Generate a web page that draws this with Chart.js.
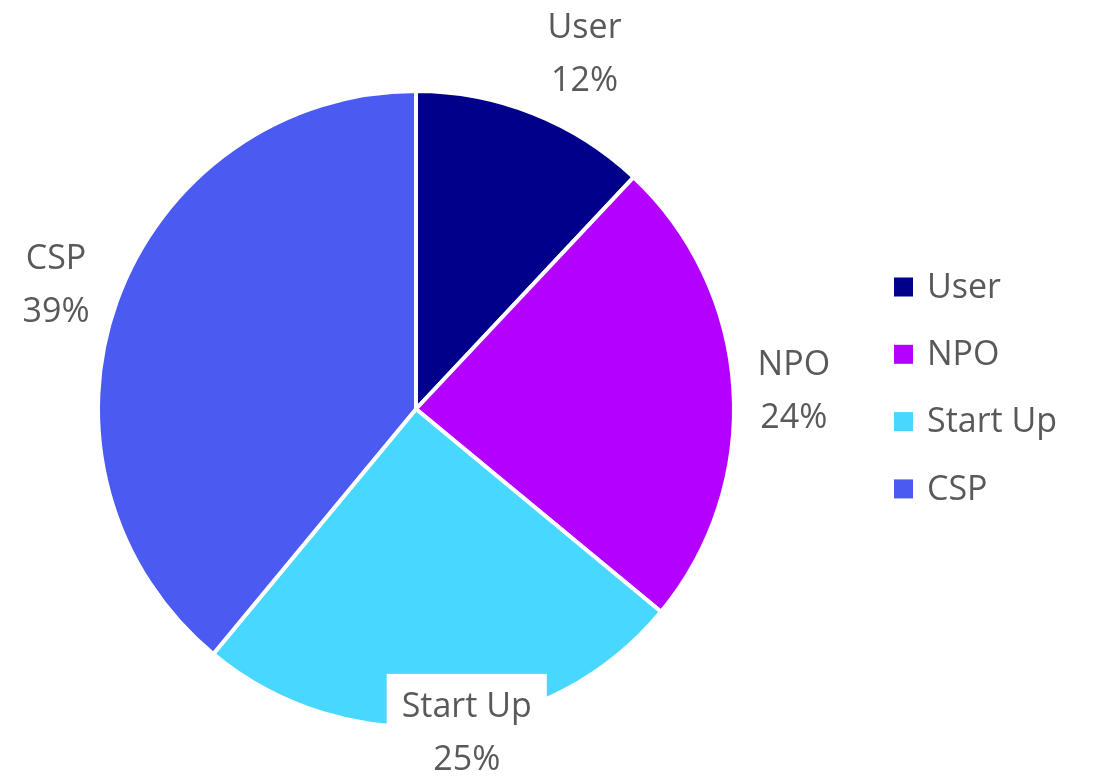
<!DOCTYPE html>
<html>
<head>
<meta charset="utf-8">
<script src="https://cdn.jsdelivr.net/npm/chart.js@4"></script>
<style>
    html, body { margin: 0; padding: 0; background: #ffffff; }
    #wrap { width: 1102px; height: 776px; }
</style>
</head>
<body>
<div id="wrap"><canvas id="shareChart"></canvas></div>
<script>
// values
const categories = ['User', 'NPO', 'Start Up', 'CSP'];
const shares = [12, 24, 25, 39];
const sliceColors = ['#00008B', '#B400FF', '#48D8FF', '#4B5AF0'];

const textColor = '#595959';
const textFont = '34px "Open Sans"';

// label placement around each slice (radius factor, angle nudge in degrees)
const labelSpots = [
    { r: 1.245, da: 3.6 },
    { r: 1.19, da: 0.4 },
    { r: 1.02, da: -3.6, boxed: true },
    { r: 1.20, da: -0.4 }
];

const sliceLabels = {
    id: 'sliceLabels',
    afterDatasetsDraw(chart) {
        const ctx = chart.ctx;
        const meta = chart.getDatasetMeta(0);
        const values = chart.data.datasets[0].data;
        const total = values.reduce((a, b) => a + b, 0);
        ctx.save();
        ctx.font = textFont;
        ctx.fillStyle = textColor;
        ctx.textAlign = 'center';
        ctx.textBaseline = 'middle';
        meta.data.forEach((arc, i) => {
            const p = arc.getProps(['x', 'y', 'startAngle', 'endAngle', 'outerRadius'], true);
            const spot = labelSpots[i];
            const a = (p.startAngle + p.endAngle) / 2 + spot.da * Math.PI / 180;
            const R = p.outerRadius * spot.r;
            const cx = p.x + Math.cos(a) * R;
            const cy = p.y + Math.sin(a) * R + 4;
            const line1 = chart.data.labels[i];
            const line2 = Math.round(values[i] / total * 100) + '%';
            const lh = 53;
            if (spot.boxed) {
                const w = Math.max(ctx.measureText(line1).width, ctx.measureText(line2).width) + 30;
                ctx.fillStyle = '#ffffff';
                ctx.fillRect(cx - w / 2, cy - lh / 2 - 33, w, lh + 70);
                ctx.fillStyle = textColor;
            }
            ctx.fillText(line1, cx, cy - lh / 2);
            ctx.fillText(line2, cx, cy + lh / 2);
        });
        ctx.restore();
    }
};

const sideLegend = {
    id: 'sideLegend',
    afterDraw(chart) {
        const ctx = chart.ctx;
        const items = chart.options.plugins.legend.labels.generateLabels(chart);
        const x = 894, top = 287, step = 67.3, box = 19;
        ctx.save();
        ctx.font = textFont;
        ctx.textBaseline = 'middle';
        ctx.textAlign = 'left';
        items.forEach((item, i) => {
            const y = top + i * step;
            ctx.fillStyle = item.fillStyle;
            ctx.fillRect(x, y - box / 2, box, box);
            ctx.fillStyle = textColor;
            ctx.fillText(item.text, x + 33, y + 1);
        });
        ctx.restore();
    }
};

new Chart(document.getElementById('shareChart'), {
    type: 'pie',
    data: {
        labels: categories,
        datasets: [{
            data: shares,
            backgroundColor: sliceColors,
            borderColor: '#ffffff',
            borderWidth: 4
        }]
    },
    options: {
        responsive: true,
        maintainAspectRatio: false,
        animation: false,
        layout: {
            padding: { left: 96, top: 89, right: 366, bottom: 47 }
        },
        plugins: {
            legend: { display: false },
            tooltip: { enabled: false }
        }
    },
    plugins: [sliceLabels, sideLegend]
});
</script>
</body>
</html>
